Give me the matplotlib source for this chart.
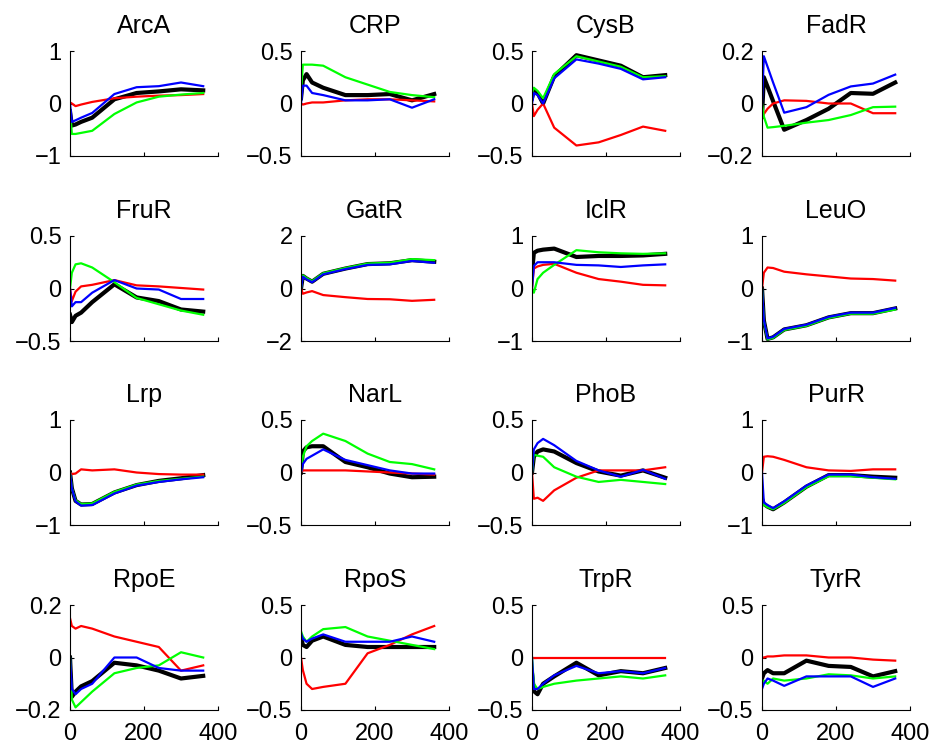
import numpy as np
from matplotlib import pyplot as plt

# time points (min)
t = [0, 5, 15, 30, 60, 120, 180, 240, 300, 360]

names = ['ArcA', 'CRP', 'CysB', 'FadR',
         'FruR', 'GatR', 'IclR', 'LeuO',
         'Lrp', 'NarL', 'PhoB', 'PurR',
         'RpoE', 'RpoS', 'TrpR', 'TyrR']

ylims = [1, 0.5, 0.5, 0.2,
         0.5, 2, 1, 1,
         1, 0.5, 0.5, 1,
         0.2, 0.5, 0.5, 0.5]

black = {
    'ArcA': [-0.15, -0.42, -0.4, -0.35, -0.27, 0.08, 0.2, 0.23, 0.27, 0.25],
    'CRP':  [0.05, 0.22, 0.28, 0.2, 0.15, 0.08, 0.08, 0.09, 0.03, 0.09],
    'CysB': [0.05, 0.13, 0.1, 0.0, 0.26, 0.46, 0.41, 0.36, 0.25, 0.27],
    'FadR': [-0.05, 0.1, 0.064, 0.009, -0.1, -0.063, -0.02, 0.04, 0.037, 0.08],
    'FruR': [-0.25, -0.32, -0.26, -0.23, -0.13, 0.04, -0.085, -0.12, -0.2, -0.22],
    'GatR': [0.0, 0.48, 0.38, 0.26, 0.56, 0.76, 0.93, 0.96, 1.08, 1.02],
    'IclR': [0.3, 0.68, 0.72, 0.74, 0.76, 0.6, 0.62, 0.62, 0.63, 0.66],
    'LeuO': [0.0, -0.61, -0.96, -0.93, -0.78, -0.7, -0.55, -0.47, -0.47, -0.38],
    'Lrp':  [0.0, -0.3, -0.54, -0.61, -0.6, -0.38, -0.24, -0.16, -0.11, -0.05],
    'NarL': [0.0, 0.2, 0.24, 0.25, 0.25, 0.1, 0.05, -0.01, -0.045, -0.04],
    'PhoB': [0.0, 0.15, 0.2, 0.22, 0.2, 0.09, 0.01, -0.03, 0.02, -0.05],
    'PurR': [-0.5, -0.6, -0.65, -0.7, -0.57, -0.27, -0.05, -0.05, -0.08, -0.1],
    'RpoE': [0.0, -0.15, -0.13, -0.11, -0.09, -0.02, -0.03, -0.05, -0.08, -0.07],
    'RpoS': [0.2, 0.12, 0.1, 0.16, 0.2, 0.12, 0.1, 0.1, 0.1, 0.1],
    'TrpR': [-0.15, -0.32, -0.35, -0.25, -0.18, -0.05, -0.17, -0.13, -0.15, -0.1],
    'TyrR': [-0.2, -0.15, -0.12, -0.15, -0.15, -0.03, -0.08, -0.09, -0.18, -0.13],
}

red = {
    'ArcA': [0.02, 0.0, -0.05, -0.02, 0.03, 0.1, 0.13, 0.15, 0.16, 0.18],
    'CRP':  [0.0, -0.01, 0.0, 0.01, 0.01, 0.03, 0.04, 0.04, 0.03, 0.02],
    'CysB': [0.0, -0.12, -0.06, 0.0, -0.23, -0.4, -0.37, -0.3, -0.22, -0.26],
    'FadR': [-0.06, -0.04, -0.02, 0.0, 0.012, 0.01, 0.0, 0.0, -0.037, -0.037],
    'FruR': [0.0, -0.12, -0.03, 0.02, 0.035, 0.08, 0.03, 0.02, 0.005, -0.01],
    'GatR': [0.0, -0.2, -0.15, -0.1, -0.25, -0.33, -0.4, -0.41, -0.47, -0.43],
    'IclR': [0.0, 0.38, 0.42, 0.45, 0.47, 0.3, 0.18, 0.13, 0.07, 0.06],
    'LeuO': [0.0, 0.3, 0.4, 0.39, 0.32, 0.27, 0.23, 0.19, 0.18, 0.15],
    'Lrp':  [0.0, -0.03, -0.02, 0.06, 0.04, 0.06, 0.0, -0.03, -0.04, -0.04],
    'NarL': [0.0, 0.02, 0.02, 0.02, 0.02, 0.02, 0.01, 0.0, -0.01, -0.02],
    'PhoB': [0.0, -0.25, -0.24, -0.27, -0.17, -0.05, 0.02, 0.02, 0.02, 0.05],
    'PurR': [0.0, 0.3, 0.31, 0.3, 0.24, 0.1, 0.04, 0.03, 0.06, 0.06],
    'RpoE': [0.15, 0.12, 0.11, 0.12, 0.11, 0.08, 0.06, 0.04, -0.05, -0.03],
    'RpoS': [0.0, -0.12, -0.25, -0.3, -0.28, -0.25, 0.04, 0.12, 0.22, 0.3],
    'TrpR': [0.0, 0.0, 0.0, 0.0, 0.0, 0.0, 0.0, 0.0, 0.0, 0.0],
    'TyrR': [0.0, 0.0, 0.01, 0.01, 0.02, 0.02, 0.0, 0.0, -0.02, -0.03],
}

green = {
    'ArcA': [-0.1, -0.58, -0.58, -0.56, -0.52, -0.2, 0.02, 0.13, 0.17, 0.2],
    'CRP':  [0.1, 0.37, 0.37, 0.37, 0.36, 0.25, 0.18, 0.11, 0.08, 0.06],
    'CysB': [0.1, 0.15, 0.12, 0.05, 0.28, 0.45, 0.4, 0.35, 0.25, 0.26],
    'FadR': [0.0, -0.05, -0.092, -0.09, -0.085, -0.073, -0.063, -0.044, -0.014, -0.012],
    'FruR': [0.0, 0.15, 0.23, 0.24, 0.2, 0.06, -0.09, -0.15, -0.21, -0.25],
    'GatR': [0.0, 0.5, 0.4, 0.28, 0.58, 0.78, 0.95, 0.98, 1.12, 1.08],
    'IclR': [0.0, -0.08, 0.18, 0.3, 0.45, 0.73, 0.69, 0.67, 0.66, 0.67],
    'LeuO': [0.0, -0.62, -0.97, -0.94, -0.79, -0.71, -0.56, -0.48, -0.48, -0.4],
    'Lrp':  [0.0, -0.3, -0.53, -0.6, -0.59, -0.37, -0.23, -0.16, -0.12, -0.08],
    'NarL': [0.0, 0.15, 0.25, 0.3, 0.37, 0.3, 0.18, 0.1, 0.08, 0.03],
    'PhoB': [0.0, 0.17, 0.16, 0.15, 0.05, -0.04, -0.09, -0.07, -0.09, -0.11],
    'PurR': [-0.55, -0.62, -0.66, -0.7, -0.58, -0.28, -0.07, -0.07, -0.1, -0.13],
    'RpoE': [0.0, -0.16, -0.19, -0.17, -0.13, -0.06, -0.04, -0.03, 0.02, 0.0],
    'RpoS': [0.25, 0.2, 0.15, 0.2, 0.27, 0.29, 0.2, 0.16, 0.12, 0.08],
    'TrpR': [0.0, -0.25, -0.3, -0.28, -0.25, -0.22, -0.2, -0.18, -0.2, -0.17],
    'TyrR': [-0.25, -0.22, -0.25, -0.2, -0.22, -0.2, -0.16, -0.17, -0.2, -0.18],
}

blue = {
    'ArcA': [0.0, -0.35, -0.32, -0.27, -0.18, 0.18, 0.31, 0.33, 0.4, 0.33],
    'CRP':  [0.0, 0.17, 0.17, 0.1, 0.08, 0.03, 0.03, 0.04, -0.04, 0.04],
    'CysB': [0.0, 0.1, 0.08, 0.0, 0.24, 0.42, 0.38, 0.33, 0.23, 0.25],
    'FadR': [0.0, 0.18, 0.14, 0.08, -0.035, -0.014, 0.033, 0.065, 0.076, 0.11],
    'FruR': [0.0, -0.17, -0.13, -0.13, -0.04, 0.08, 0.0, -0.01, -0.1, -0.1],
    'GatR': [0.0, 0.45, 0.35, 0.24, 0.54, 0.74, 0.9, 0.92, 1.05, 0.98],
    'IclR': [0.0, 0.43, 0.5, 0.5, 0.5, 0.45, 0.44, 0.41, 0.44, 0.46],
    'LeuO': [0.0, -0.6, -0.95, -0.92, -0.77, -0.69, -0.54, -0.46, -0.46, -0.37],
    'Lrp':  [0.0, -0.3, -0.55, -0.63, -0.62, -0.4, -0.25, -0.18, -0.13, -0.09],
    'NarL': [0.0, 0.08, 0.13, 0.16, 0.22, 0.12, 0.07, 0.02, -0.01, -0.01],
    'PhoB': [0.0, 0.22, 0.28, 0.32, 0.26, 0.11, 0.02, -0.04, 0.025, -0.06],
    'PurR': [0.0, -0.57, -0.62, -0.68, -0.55, -0.25, -0.04, -0.04, -0.09, -0.12],
    'RpoE': [0.0, -0.12, -0.14, -0.12, -0.1, 0.0, 0.0, -0.04, -0.05, -0.05],
    'RpoS': [0.23, 0.18, 0.15, 0.18, 0.22, 0.15, 0.15, 0.15, 0.2, 0.15],
    'TrpR': [0.0, -0.3, -0.3, -0.25, -0.17, -0.08, -0.15, -0.13, -0.15, -0.1],
    'TyrR': [-0.3, -0.25, -0.2, -0.22, -0.27, -0.18, -0.18, -0.18, -0.28, -0.2],
}

plt.rcParams['font.family'] = ['Liberation Sans', 'DejaVu Sans']

fig = plt.figure(figsize=(9.36, 7.48), dpi=100)

# pixel layout of the grid
col_left = [70, 301, 532, 762]
row_bottom = [156, 341, 525, 710]
w, h = 148, 105

for k, name in enumerate(names):
    r, c = k // 4, k % 4
    ax = fig.add_axes([col_left[c] / 936, 1 - row_bottom[r] / 748, w / 936, h / 748])
    ax.plot(t, black[name], color='k', lw=3)
    ax.plot(t, red[name], color='#ff0000', lw=1.6)
    ax.plot(t, green[name], color='#00ff00', lw=1.6)
    ax.plot(t, blue[name], color='#0000ff', lw=1.6)

    lim = ylims[k]
    ax.set_xlim(0, 400)
    ax.set_ylim(-lim, lim)
    ax.set_xticks([0, 200, 400])
    ax.set_yticks([-lim, 0, lim])
    ax.set_yticklabels(['\u2212' + format(lim, 'g'), '0', format(lim, 'g')])
    if r < 3:
        ax.set_xticklabels([])
    ax.tick_params(direction='in', length=3, width=0.8, labelsize=17)
    ax.tick_params(axis='y', pad=6)
    ax.tick_params(axis='x', pad=9)
    for s in ['top', 'right']:
        ax.spines[s].set_visible(False)
    for s in ['left', 'bottom']:
        ax.spines[s].set_linewidth(0.8)
    ax.set_title(name, fontsize=18, pad=13)

plt.savefig('out.png', dpi=100)
